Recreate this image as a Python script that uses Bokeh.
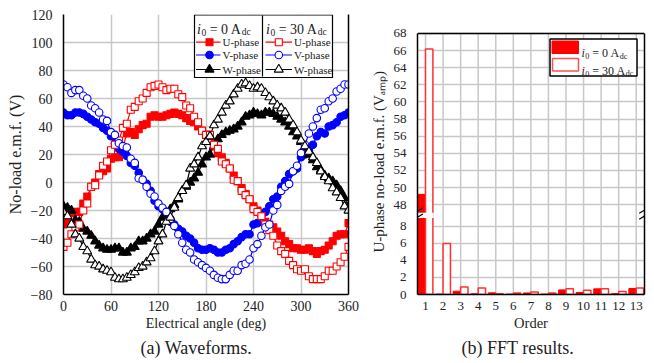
import math
from bokeh.plotting import figure
from bokeh.layouts import row
from bokeh.models import Range1d, LinearAxis, FixedTicker, Label, Arrow, Title
from bokeh.embed import file_html
from bokeh.resources import INLINE

# ---------------- data ----------------
angle_deg = list(range(0, 361, 5))
u_0A = [-30, -28, -22, -21, -21, -15, -10, -3, 0, 6,
        8, 10, 17, 18, 18, 25, 35, 36, 34, 38,
        41, 42, 47, 48, 47, 47, 48, 49, 50, 49,
        48, 46, 44, 43, 40, 37, 34, 33, 26, 21,
        18, 14, 10, 5, 1, -4, -8, -12, -17, -20,
        -23, -28, -30, -32, -35, -38, -42, -44, -47, -47,
        -48, -48, -47, -49, -51, -49, -48, -45, -42, -38,
        -37, -37, -29]
v_0A = [50, 48, 48, 50, 50, 49, 47, 45, 43, 42,
        39, 37, 33, 28, 24, 22, 19, 14, 12, 7,
        2, -1, -6, -13, -17, -19, -23, -28, -30, -33,
        -35, -38, -40, -43, -47, -48, -48, -47, -48, -50,
        -50, -48, -47, -44, -42, -39, -37, -37, -30, -29,
        -23, -21, -17, -12, -10, -3, 1, 6, 8, 10,
        18, 20, 23, 27, 33, 36, 35, 40, 41, 43,
        47, 48, 50]
w_0A = [-17, -18, -20, -27, -28, -33, -35, -38, -42, -45,
        -47, -48, -48, -47, -47, -50, -50, -47, -46, -42,
        -42, -40, -37, -35, -30, -25, -22, -19, -16, -12,
        -6, -3, 0, 3, 7, 13, 18, 20, 26, 31,
        34, 36, 37, 38, 40, 43, 47, 48, 50, 49,
        48, 50, 50, 49, 47, 45, 43, 40, 36, 33,
        29, 23, 20, 16, 11, 9, 5, 3, 1, -2,
        -6, -11, -17]
u_30A = [-46, -43, -37, -32, -30, -20, -15, -3, -2, 5,
         12, 15, 23, 27, 30, 39, 42, 52, 54, 58,
         60, 64, 68, 69, 70, 68, 66, 67, 67, 63,
         61, 55, 53, 47, 43, 37, 34, 34, 27, 24,
         15, 13, 10, 2, 1, -6, -9, -12, -19, -21,
         -24, -30, -34, -38, -45, -49, -51, -56, -59, -62,
         -63, -62, -67, -69, -69, -69, -67, -63, -63, -60,
         -57, -53, -46]
v_30A = [70, 68, 64, 66, 66, 62, 60, 55, 53, 50,
         45, 44, 36, 34, 28, 26, 25, 17, 14, 3,
         2, -3, -8, -10, -15, -18, -21, -26, -31, -37,
         -43, -48, -50, -55, -57, -59, -61, -63, -66, -68,
         -69, -69, -66, -63, -63, -59, -58, -55, -47, -44,
         -38, -32, -30, -20, -16, -6, -3, -1, 8, 12,
         21, 27, 35, 40, 46, 52, 53, 58, 60, 65,
         67, 70, 70]
w_30A = [-21, -24, -30, -37, -40, -46, -49, -55, -59, -60,
         -62, -63, -64, -68, -69, -69, -68, -66, -64, -61,
         -60, -57, -54, -49, -42, -37, -28, -25, -18, -11,
         -6, -2, 10, 13, 18, 26, 29, 33, 41, 45,
         50, 55, 58, 63, 67, 70, 71, 69, 67, 68,
         67, 64, 61, 58, 55, 53, 50, 45, 41, 36,
         30, 26, 22, 18, 14, 8, 4, 1, -4, -7,
         -11, -17, -20]

orders = list(range(1, 14))
fft_0A = [49.2, 0.05, 0.39, 0.08, 0.19, 0.05, 0.18, 0.05, 0.54, 0.24, 0.66, 0.10, 0.70]
fft_30A = [66.2, 5.95, 0.89, 0.77, 0.10, 0.18, 0.30, 0.18, 0.66, 0.50, 0.66, 0.35, 0.77]

left_xticks = [0, 60, 120, 180, 240, 300, 360]
left_yticks = [-80, -60, -40, -20, 0, 20, 40, 60, 80, 100, 120]
right_low_ticks = [0, 2, 4, 6, 8]
right_high_ticks = [48, 50, 52, 54, 56, 58, 60, 62, 64, 66, 68]

FONT = "Liberation Serif"
TXT = "#222222"
GRID = "#c8c8c8"

# Times-like advance widths (per 1000 em)
TW = {' ': 250, '(': 333, ')': 333, '-': 333, '.': 250, '=': 564, 'A': 722, 'U': 722,
      'V': 722, 'a': 444, 'c': 444, 'd': 500, 'e': 444, 'f': 333, 'h': 500, 'i': 278,
      'l': 278, 'm': 778, 'n': 500, 'o': 500, 'p': 500, 's': 389}


def tw(s, size):
    return sum(TW.get(c, 500) for c in s) * size / 1000.0


def label(fig, x, y, text, size, style="normal", align="left", baseline="alphabetic", angle=0.0):
    fig.add_layout(Label(x=x, y=y, text=text, text_font=FONT, text_font_size=f"{size}px",
                         text_font_style=style, text_color=TXT, text_align=align,
                         text_baseline=baseline, angle=angle))


def header(fig, cx, cy, px, py, num, size, sub):
    # i_0 = <num> A_dc  built from runs (no leading spaces)
    label(fig, cx(px), cy(py), "i", size, "italic")
    x = px + tw("i", size) + 0.5
    label(fig, cx(x), cy(py + 3), "0", sub)
    x += tw("0", sub) + tw(" ", size)
    main = "= " + num + " A"
    label(fig, cx(x), cy(py), main, size)
    x += tw(main, size)
    label(fig, cx(x), cy(py + 3), "dc", sub)


def style_axis(ax, size):
    ax.axis_line_color = "black"
    ax.axis_line_width = 1.5
    ax.major_tick_line_color = None
    ax.minor_tick_line_color = None
    ax.major_label_text_font = FONT
    ax.major_label_text_font_size = f"{size}px"
    ax.major_label_text_color = TXT
    ax.axis_label_text_font = FONT
    ax.axis_label_text_font_style = "normal"
    ax.axis_label_text_color = TXT


def caption(fig, text, offset):
    fig.add_layout(Title(text=text, text_font=FONT, text_font_size="18px", text_font_style="normal",
                         text_color=TXT, align="left", offset=offset, standoff=5), "below")


# ---------------- left: waveforms ----------------
p1 = figure(width=360, height=363, x_range=Range1d(0, 360), y_range=Range1d(-80, 120),
            output_backend="svg", toolbar_location=None,
            min_border_left=63, min_border_right=12, min_border_top=14, min_border_bottom=69)
p1.outline_line_color = None
p1.background_fill_color = "white"
p1.border_fill_color = "white"
p1.xaxis.ticker = FixedTicker(ticks=left_xticks)
p1.yaxis.ticker = FixedTicker(ticks=left_yticks)
for ax in p1.axis:
    style_axis(ax, 14)
p1.xaxis.major_label_standoff = 0
p1.xaxis.axis_label = "Electrical angle (deg)"
p1.xaxis.axis_label_text_font_size = "14px"
p1.xaxis.axis_label_standoff = 2
p1.yaxis.axis_label = "No-load e.m.f. (V)"
p1.yaxis.axis_label_text_font_size = "16px"
p1.yaxis.axis_label_standoff = 4
rax = LinearAxis(ticker=FixedTicker(ticks=[]), major_label_text_font_size="0px",
                 major_label_standoff=0)
style_axis(rax, 1)
p1.add_layout(rax, "right")
p1.grid.grid_line_color = GRID
p1.grid.grid_line_width = 1.5
caption(p1, "(a) Waveforms.", 77)


# page-pixel -> data helpers (legend placement only)
def lx(px):
    return (px - 63.0) * 360.0 / 285.0


def ly(py):
    return 120.0 - (py - 14.0) * 200.0 / 280.0


series = [
    (u_0A, "red", "square", True, 7),
    (v_0A, "blue", "circle", True, 7.5),
    (w_0A, "black", "triangle", True, 9),
    (u_30A, "red", "square", False, 7),
    (v_30A, "blue", "circle", False, 7.5),
    (w_30A, "black", "triangle", False, 9),
]
for vals, col, mk, filled, sz in series:
    p1.line(angle_deg, vals, line_color=col, line_width=1.2)
for vals, col, mk, filled, sz in series:
    p1.scatter(angle_deg, vals, marker=mk, size=sz, line_color=col, line_width=1.1,
               fill_color=col if filled else "white")

# legend box
p1.quad(left=[lx(194)], right=[lx(332)], top=[ly(14.5)], bottom=[ly(77)],
        fill_color="white", line_color="black", line_width=1.2)
p1.segment(x0=[lx(262)], y0=[ly(15)], x1=[lx(262)], y1=[ly(76)], line_color="black", line_width=1.2)
header(p1, lx, ly, 196.5, 28.5, "0", 14, 9.5)
header(p1, lx, ly, 265.5, 28.5, "30", 14, 9.5)
names = ["U-phase", "V-phase", "W-phase"]
ys = [41.7, 54.5, 69]
for k, (vals, col, mk, filled, sz) in enumerate(series):
    col_i = k // 3
    yy = ys[k % 3]
    x0, x1, xm, xt = (195.5, 220, 209, 222) if col_i == 0 else (265, 291.5, 278.3, 293.5)
    p1.line([lx(x0), lx(x1)], [ly(yy), ly(yy)], line_color=col, line_width=1.2)
    p1.scatter([lx(xm)], [ly(yy)], marker=mk, size=sz, line_color=col, line_width=1.1,
               fill_color=col if filled else "white")
    label(p1, lx(xt), ly(yy), names[k % 3], 11, baseline="middle")


# ---------------- right: FFT ----------------
def fy(v):
    # broken axis: 0..~9 below the break, 48..68 above it
    return 2.0 * v if v < 30 else 2.0 * (v - 48.0) + 21.0


YTOP = fy(right_high_ticks[-1])       # top of the drawn chart (68)
YFRAME = 280.0 / 4.279                # frame is shared with the left chart

p2 = figure(width=294, height=363, x_range=Range1d(0.544, 13.47), y_range=Range1d(0, YFRAME),
            output_backend="svg", toolbar_location=None,
            min_border_left=57, min_border_right=10, min_border_top=14, min_border_bottom=69)
p2.outline_line_color = None
p2.background_fill_color = "white"
p2.border_fill_color = "white"
tick_pos = [fy(t) for t in right_low_ticks] + [fy(t) for t in right_high_ticks]
tick_txt = [str(t) for t in right_low_ticks] + [str(t) for t in right_high_ticks]
p2.yaxis.ticker = FixedTicker(ticks=tick_pos)
p2.yaxis.major_label_overrides = {int(round(a)): b for a, b in zip(tick_pos, tick_txt)}
p2.yaxis.bounds = (0, YTOP)
p2.xaxis.ticker = FixedTicker(ticks=orders)
for ax in p2.axis:
    style_axis(ax, 13)
p2.xaxis.major_label_standoff = 1
p2.xaxis.axis_label = "Order"
p2.xaxis.axis_label_text_font_size = "14.5px"
p2.xaxis.axis_label_standoff = 2
rax2 = LinearAxis(ticker=FixedTicker(ticks=[]), major_label_text_font_size="0px",
                  major_label_standoff=0, bounds=(0, YTOP))
style_axis(rax2, 1)
p2.add_layout(rax2, "right")
p2.add_layout(Title(text="U-phase no-load e.m.f. (V\u2090\u2098\u209a)", text_font=FONT,
                    text_font_size="15px", text_font_style="normal", text_color=TXT,
                    align="left", offset=42, standoff=8), "left")
p2.xgrid.visible = False
p2.ygrid.grid_line_color = GRID
p2.ygrid.grid_line_width = 1.5
caption(p2, "(b) FFT results.", 44)

# vertical grid lines only up to the top of the chart
p2.segment(x0=orders, y0=[0] * len(orders), x1=orders, y1=[YTOP] * len(orders),
           line_color=GRID, line_width=1.5)
p2.segment(x0=[0.544], y0=[YTOP], x1=[13.47], y1=[YTOP], line_color="black", line_width=1.5)

bw = 0.42
p2.vbar(x=[o - bw / 2 for o in orders], top=[fy(v) for v in fft_0A], bottom=0, width=bw,
        fill_color="red", line_color="red", line_width=1)
p2.vbar(x=[o + bw / 2 for o in orders], top=[fy(v) for v in fft_30A], bottom=0, width=bw,
        fill_color="white", line_color="#ff3030", line_width=1.5)
# white gap of the axis break across the tall bars
p2.quad(left=[0.55], right=[1.47], bottom=[17.9], top=[19.1], fill_color="white", line_color=None)
for xb in (0.6, 13.42):
    for yb in (17.6, 19.0):
        p2.add_layout(Arrow(end=None, x_start=xb - 0.25, y_start=yb, x_end=xb + 0.25, y_end=yb + 1.2,
                            line_color="black", line_width=1.2))


def rx(px):
    return 0.544 + (px - 417.0) / 17.56


def ry(py):
    return (294.0 - py) / 4.279


# legend
p2.quad(left=[rx(549.5)], right=[rx(636.5)], top=[ry(38.5)], bottom=[ry(75.5)],
        fill_color="white", line_color="black", line_width=1.5)
p2.quad(left=[rx(551.5)], right=[rx(578)], top=[ry(40.5)], bottom=[ry(53)],
        fill_color="red", line_color="red", line_width=1)
p2.quad(left=[rx(552)], right=[rx(578)], top=[ry(58)], bottom=[ry(70.5)],
        fill_color="white", line_color="#ff5050", line_width=1.5)
header(p2, rx, ry, 581, 52.5, "0", 12, 8)
header(p2, rx, ry, 581, 70, "30", 12, 8)

layout = row(p1, p2)
open("out.html", "w").write(file_html(layout, INLINE))
